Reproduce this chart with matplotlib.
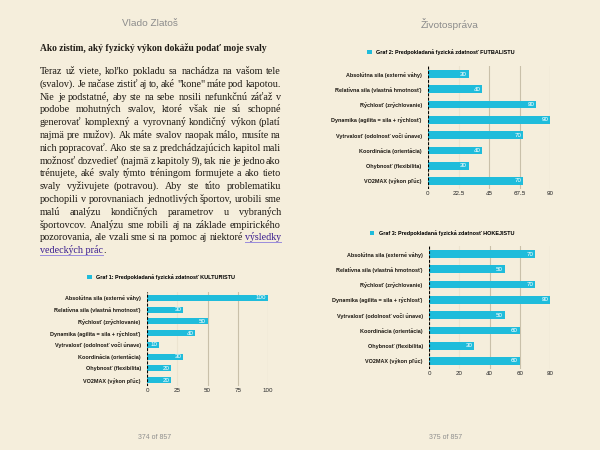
import matplotlib
matplotlib.use("Agg")
import matplotlib.pyplot as plt
from matplotlib.lines import Line2D

# native TrueType hinting keeps every word on the same pixel baseline
plt.rcParams["text.hinting"] = "native"

W, H = 600, 450
BG = "#f5eedc"
BAR = "#1fbcdb"
GRID = "#c9c0a9"
GRID_FAINT = "#ece4d0"
INK = "#1e1a14"
GREY = "#8c8c8c"
LINK = "#3b1f8f"
LINK_LINE = "#9a8bdc"

categories = [
    "Absolútna sila (externé váhy)",
    "Relatívna sila (vlastná hmotnosť)",
    "Rýchlosť (zrýchlovanie)",
    "Dynamika (agilita = sila + rýchlosť)",
    "Vytrvalosť (odolnosť voči únave)",
    "Koordinácia (orientácia)",
    "Ohybnosť (flexibilita)",
    "VO2MAX (výkon pľúc)",
]
kulturista = [100, 30, 50, 40, 10, 30, 20, 20]
futbalista = [30, 40, 80, 90, 70, 40, 30, 70]
hokejista = [70, 50, 70, 80, 50, 60, 30, 60]

ticks_1 = [0, 25, 50, 75, 100]
ticks_2 = [0, 22.5, 45, 67.5, 90]
ticks_3 = [0, 20, 40, 60, 80]

title_1 = "Graf 1: Predpokladaná fyzická zdatnosť KULTURISTU"
title_2 = "Graf 2: Predpokladaná fyzická zdatnosť FUTBALISTU"
title_3 = "Graf 3: Predpokladaná fyzická zdatnosť HOKEJISTU"

heading = "Ako zistím, aký fyzický výkon dokážu podať moje svaly"
body = [
    "Teraz už viete, koľko pokladu sa nachádza na vašom tele",
    "(svalov). Je načase zistiť aj to, aké \"kone\" máte pod kapotou.",
    "Nie je podstatné, aby ste na sebe nosili nefunkčnú záťaž v",
    "podobe mohutných svalov, ktoré však nie sú schopné",
    "generovať komplexný a vyrovnaný kondičný výkon (platí",
    "najmä pre mužov). Ak máte svalov naopak málo, musíte na",
    "nich popracovať. Ako ste sa z predchádzajúcich kapitol mali",
    "možnosť dozvedieť (najmä z kapitoly 9), tak nie je jedno ako",
    "trénujete, aké svaly týmto tréningom formujete a ako tieto",
    "svaly vyživujete (potravou). Aby ste túto problematiku",
    "pochopili v porovnaniach jednotlivých športov, urobili sme",
    "malú analýzu kondičných parametrov u vybraných",
    "športovcov. Analýzu sme robili aj na základe empirického",
    "pozorovania, ale vzali sme si na pomoc aj niektoré výsledky",
]
last_line_link = "vedeckých prác"

SERIF = dict(family="Liberation Serif", fontsize=7.3)


def fx(x):
    return x / W


def fy(y):
    return 1 - y / H


def bar_chart(fig, box, values, ticks, title, legend_xy):
    left, top, right, bottom = box
    ax = fig.add_axes([fx(left), fy(bottom), (right - left) / W, (bottom - top) / H])
    ax.set_facecolor("none")
    pos = list(range(len(categories)))
    bars = ax.barh(pos, values, height=0.5, color=BAR, zorder=3)
    ax.set_ylim(len(categories) - 0.5, -0.5)
    ax.set_xlim(0, ticks[-1])
    ax.set_xticks(ticks)
    ax.set_xticklabels([f"{t:g}" for t in ticks])
    ax.set_yticks(pos)
    ax.set_yticklabels(categories, fontsize=4, fontweight="bold", color=INK,
                       family="Liberation Sans")
    ax.tick_params(axis="x", length=0, labelsize=4.5, labelcolor="#333333", pad=1.5)
    ax.tick_params(axis="y", length=0, pad=4.5)
    for lbl in ax.get_xticklabels():
        lbl.set_family("Liberation Sans")
    for s in ax.spines.values():
        s.set_visible(False)
    ax.grid(axis="x", color=GRID, lw=0.8, zorder=0)
    ax.get_xgridlines()[1].set_color(GRID_FAINT)
    ax.axvline(0, color="black", lw=0.8, ls=(0, (2.5, 1.5)), zorder=4)
    for p, v in zip(pos, values):
        ax.annotate(str(v), (v, p), xytext=(-1.2, 0), textcoords="offset points",
                    ha="right", va="center", color="white", fontsize=4.5,
                    family="Liberation Sans", zorder=5)
    fig.legend(handles=[bars], labels=[title], loc="center",
               bbox_to_anchor=(fx(legend_xy[0]), fy(legend_xy[1])), frameon=False,
               prop={"family": "Liberation Sans", "size": 4, "weight": "bold"},
               handlelength=0.8, handleheight=0.8, handletextpad=0.8)
    return ax


def underline(fig, xa, xb, y):
    fig.add_artist(Line2D([fx(xa), fx(xb)], [fy(y + 2), fy(y + 2)],
                          color=LINK_LINE, lw=0.7))


def main():
    fig = plt.figure(figsize=(W / 100, H / 100), dpi=100, facecolor=BG)
    renderer = fig.canvas.get_renderer()

    # page headers and footers
    fig.text(fx(150), fy(24), "Vlado Zlatoš", ha="center", va="center",
             color=GREY, fontsize=7.2, family="Liberation Sans")
    fig.text(fx(450), fy(24), "Životospráva", ha="center", va="center",
             color=GREY, fontsize=7.2, family="Liberation Sans")
    fig.text(fx(155), fy(437), "374 of 857", ha="center", va="center",
             color=GREY, fontsize=5, family="Liberation Sans")
    fig.text(fx(446), fy(437), "375 of 857", ha="center", va="center",
             color=GREY, fontsize=5, family="Liberation Sans")

    # left page text, justified word by word on whole-pixel baselines
    fig.text(fx(40), fy(51), heading, ha="left", va="baseline", color=INK,
             fontweight="bold", family="Liberation Serif", fontsize=6.8)
    x0, x1 = 40, 281
    base0, step = 74, 12.8
    for i, line in enumerate(body):
        words = line.split(" ")
        y = round(base0 + i * step)
        texts = []
        for j, w in enumerate(words):
            is_link = (i == len(body) - 1 and j == len(words) - 1)
            texts.append(fig.text(0, fy(y), w, ha="left", va="baseline",
                                  color=LINK if is_link else INK, **SERIF))
        widths = [t.get_window_extent(renderer).width for t in texts]
        gap = (x1 - x0 - sum(widths)) / (len(words) - 1)
        x = x0
        for t, wd in zip(texts, widths):
            t.set_x(fx(round(x)))
            if t.get_color() == LINK:
                underline(fig, round(x), round(x) + wd, y)
            x += wd + gap

    y = round(base0 + len(body) * step)
    t = fig.text(fx(x0), fy(y), last_line_link, ha="left", va="baseline",
                 color=LINK, **SERIF)
    wd = t.get_window_extent(renderer).width
    underline(fig, x0, x0 + wd, y)
    fig.text(fx(x0 + wd), fy(y), ".", ha="left", va="baseline", color=INK, **SERIF)

    # charts
    bar_chart(fig, (147, 292, 268, 386), kulturista, ticks_1, title_1, (161, 277))
    bar_chart(fig, (428, 66.4, 550, 188.6), futbalista, ticks_2, title_2, (441, 52))
    bar_chart(fig, (429, 246.4, 550, 368.6), hokejista, ticks_3, title_3, (442, 233))

    fig.savefig("out.png", dpi=100, facecolor=BG)
    plt.close(fig)


if __name__ == "__main__":
    main()
